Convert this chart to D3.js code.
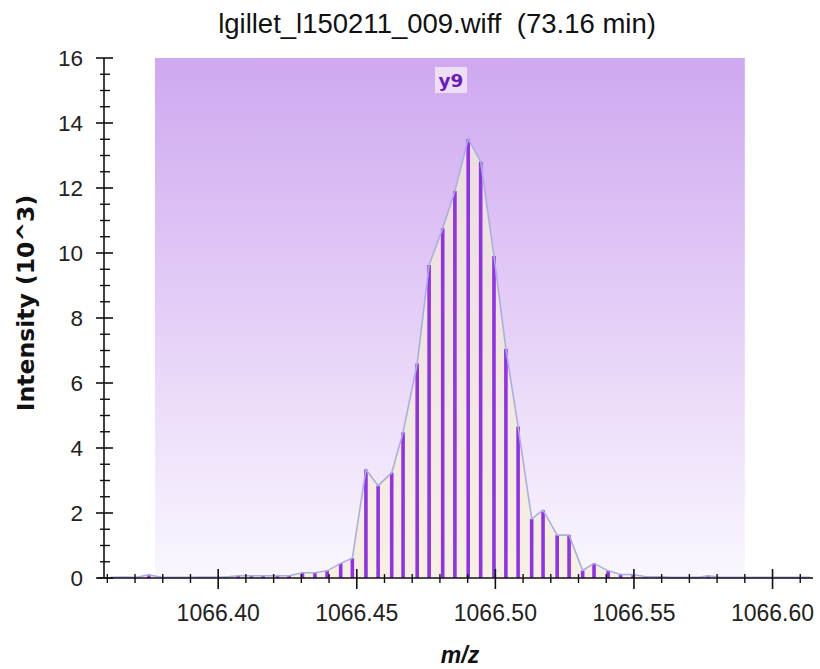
<!DOCTYPE html>
<html>
<head>
<meta charset="utf-8">
<script src="https://cdn.jsdelivr.net/npm/d3@7"></script>
<style>
  html, body { margin: 0; padding: 0; background: #fff; }
  svg { display: block; }
</style>
</head>
<body>
<svg id="chart" width="820" height="669"></svg>
<script>
// ---- data ----
const titleText = "lgillet_l150211_009.wiff  (73.16 min)";
const yLabelText = "Intensity (10^3)";
const xLabelText = "m/z";
const annotationText = "y9";
const annotationRange = [1066.3772, 1066.5900];
const annotationLabelMz = 1066.4840;

const mzValues = [
  1066.3612, 1066.3658, 1066.3704, 1066.3750, 1066.3796, 1066.3842, 1066.3888, 1066.3934,
  1066.3980, 1066.4026, 1066.4072, 1066.4120, 1066.4162, 1066.4214, 1066.4256, 1066.4304,
  1066.4349, 1066.4393, 1066.4442, 1066.4484, 1066.4533, 1066.4577, 1066.4626, 1066.4667,
  1066.4718, 1066.4761, 1066.4810, 1066.4854, 1066.4902, 1066.4947, 1066.4995, 1066.5038,
  1066.5082, 1066.5131, 1066.5172, 1066.5223, 1066.5266, 1066.5315, 1066.5356, 1066.5407,
  1066.5452, 1066.5497, 1066.5543, 1066.5593, 1066.5640, 1066.5685, 1066.5732, 1066.5768,
  1066.5813, 1066.5860, 1066.5905, 1066.5952, 1066.5997, 1066.6044, 1066.6090, 1066.6136
];
const intensityValues = [
  0.02, 0.03, 0.02, 0.10, 0.02, 0.02, 0.02, 0.03,
  0.03, 0.03, 0.07, 0.07, 0.07, 0.07, 0.07, 0.16,
  0.16, 0.22, 0.45, 0.61, 3.34, 2.84, 3.24, 4.48,
  6.60, 9.63, 10.76, 11.91, 13.51, 12.81, 9.91, 7.05,
  4.66, 1.82, 2.09, 1.32, 1.32, 0.23, 0.45, 0.22,
  0.11, 0.11, 0.04, 0.04, 0.02, 0.02, 0.02, 0.07,
  0.02, 0.02, 0.02, 0.02, 0.02, 0.02, 0.02, 0.02
];
const xTickValues = [1066.40, 1066.45, 1066.50, 1066.55, 1066.60];
const yTickValues = [0, 2, 4, 6, 8, 10, 12, 14, 16];

// ---- layout ----
const svg = d3.select("#chart");
const plot = { left: 104, right: 813, top: 58, bottom: 578 };

const x = d3.scaleLinear().domain([1066.3588, 1066.6146]).range([plot.left, plot.right]);
const y = d3.scaleLinear().domain([0, 16]).range([plot.bottom, plot.top]);

const data = mzValues.map((m, i) => ({ mz: m, v: intensityValues[i] }));

// gradient annotation band
const defs = svg.append("defs");
const grad = defs.append("linearGradient").attr("id", "band")
  .attr("x1", 0).attr("y1", 0).attr("x2", 0).attr("y2", 1);
grad.append("stop").attr("offset", "0%").attr("stop-color", "#cfa8f0");
grad.append("stop").attr("offset", "100%").attr("stop-color", "#faf7fe");

svg.append("rect")
  .attr("x", x(annotationRange[0]))
  .attr("y", y(16))
  .attr("width", x(annotationRange[1]) - x(annotationRange[0]))
  .attr("height", y(0) - y(16))
  .attr("fill", "url(#band)");

// area under the profile
const area = d3.area().x(d => x(d.mz)).y0(y(0)).y1(d => y(d.v));
svg.append("path").datum(data)
  .attr("d", area)
  .attr("fill", "rgb(242,238,212)")
  .attr("fill-opacity", 0.72);

// sticks
svg.append("g").selectAll("line").data(data).join("line")
  .attr("x1", d => x(d.mz)).attr("x2", d => x(d.mz))
  .attr("y1", y(0)).attr("y2", d => y(d.v))
  .attr("stroke", "#9230ea")
  .attr("stroke-width", 3.6);

// profile line
const line = d3.line().x(d => x(d.mz)).y(d => y(d.v));
svg.append("path").datum(data)
  .attr("d", line)
  .attr("fill", "none")
  .attr("stroke", "#aaaee2")
  .attr("stroke-width", 1.6);

// annotation label
const lx = x(annotationLabelMz);
svg.append("rect")
  .attr("x", lx - 16).attr("y", 67)
  .attr("width", 32).attr("height", 26)
  .attr("fill", "#eedff9");
svg.append("text")
  .attr("x", lx).attr("y", 87)
  .attr("text-anchor", "middle")
  .attr("font-family", "DejaVu Sans")
  .attr("font-weight", "bold")
  .attr("font-size", 18.5)
  .attr("fill", "#6a1db8")
  .text(annotationText);

// ---- axes ----
const axisColor = "#111";
const ax = svg.append("g");

ax.append("line")
  .attr("x1", plot.left).attr("x2", plot.left)
  .attr("y1", plot.top).attr("y2", plot.bottom)
  .attr("stroke", axisColor).attr("stroke-width", 1.6);
ax.append("line")
  .attr("x1", plot.left - 6).attr("x2", plot.right)
  .attr("y1", plot.bottom).attr("y2", plot.bottom)
  .attr("stroke", axisColor).attr("stroke-width", 1.6);

const yMinor = d3.range(0, 16.001, 0.5).filter(v => Math.abs(v % 2) > 1e-6);
ax.append("g").selectAll("line").data(yMinor).join("line")
  .attr("x1", plot.left - 4).attr("x2", plot.left + 6)
  .attr("y1", d => y(d)).attr("y2", d => y(d))
  .attr("stroke", axisColor).attr("stroke-width", 1.4);
ax.append("g").selectAll("line").data(yTickValues).join("line")
  .attr("x1", plot.left - 8).attr("x2", plot.left + 9)
  .attr("y1", d => y(d)).attr("y2", d => y(d))
  .attr("stroke", axisColor).attr("stroke-width", 1.6);
ax.append("g").selectAll("text").data(yTickValues).join("text")
  .attr("x", 83).attr("y", d => y(d) + 8)
  .attr("text-anchor", "end")
  .attr("font-family", "Liberation Sans, Arial, sans-serif")
  .attr("font-size", 22.5)
  .attr("fill", "#222")
  .text(d => d);

const xMinor = d3.range(1066.36, 1066.615, 0.01)
  .map(v => Math.round(v * 100) / 100)
  .filter(v => !xTickValues.some(t => Math.abs(t - v) < 1e-6) && x(v) > plot.left + 1);
ax.append("g").selectAll("line").data(xMinor).join("line")
  .attr("x1", d => x(d)).attr("x2", d => x(d))
  .attr("y1", plot.bottom - 4).attr("y2", plot.bottom + 5)
  .attr("stroke", axisColor).attr("stroke-width", 1.4);
ax.append("g").selectAll("line").data(xTickValues).join("line")
  .attr("x1", d => x(d)).attr("x2", d => x(d))
  .attr("y1", plot.bottom - 9).attr("y2", plot.bottom + 11)
  .attr("stroke", axisColor).attr("stroke-width", 1.6);
ax.append("g").selectAll("text").data(xTickValues).join("text")
  .attr("x", d => x(d)).attr("y", 621)
  .attr("text-anchor", "middle")
  .attr("font-family", "Liberation Sans, Arial, sans-serif")
  .attr("font-size", 23)
  .attr("fill", "#222")
  .text(d => d3.format(".2f")(d));

// ---- titles ----
svg.append("text")
  .attr("x", 437).attr("y", 33)
  .attr("text-anchor", "middle")
  .attr("font-family", "Liberation Sans, Arial, sans-serif")
  .attr("font-size", 27.5)
  .attr("fill", "#111")
  .style("white-space", "pre")
  .text(titleText);

svg.append("text")
  .attr("transform", "translate(34,303) rotate(-90)")
  .attr("text-anchor", "middle")
  .attr("font-family", "DejaVu Sans")
  .attr("font-weight", "bold")
  .attr("font-size", 23.5)
  .attr("fill", "#111")
  .text(yLabelText);

svg.append("text")
  .attr("x", 460).attr("y", 663)
  .attr("text-anchor", "middle")
  .attr("font-family", "Liberation Sans, Arial, sans-serif")
  .attr("font-weight", "bold")
  .attr("font-style", "italic")
  .attr("font-size", 23)
  .attr("fill", "#111")
  .text(xLabelText);
</script>
</body>
</html>
